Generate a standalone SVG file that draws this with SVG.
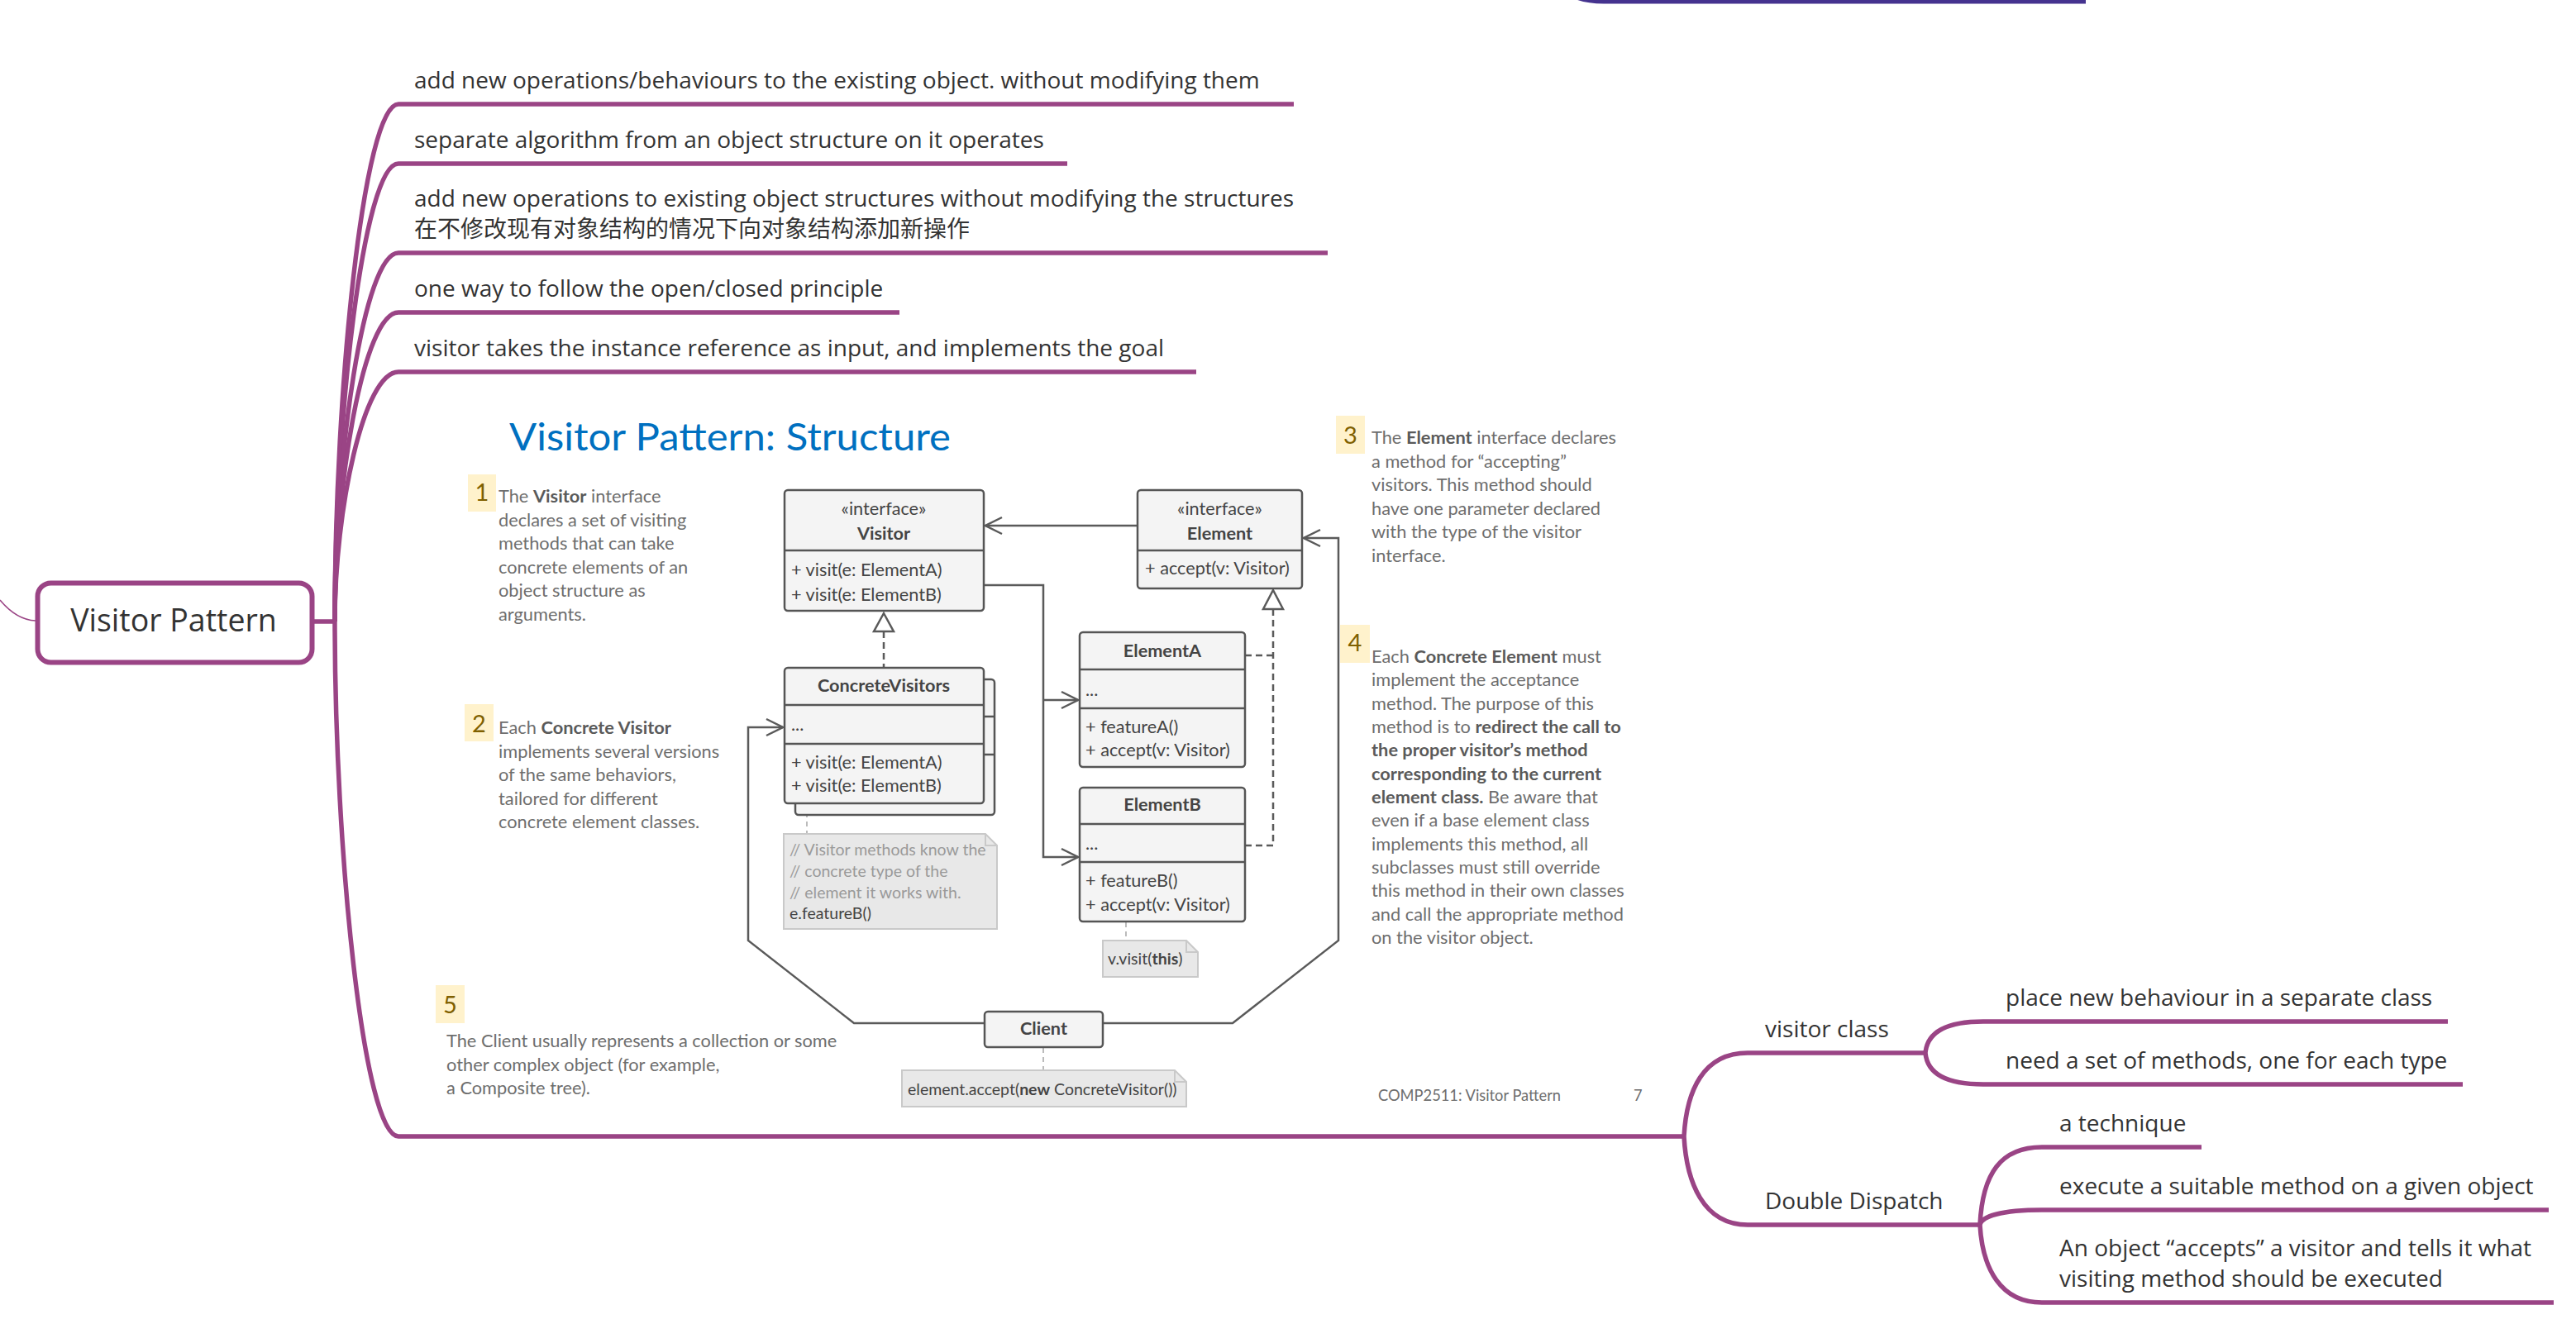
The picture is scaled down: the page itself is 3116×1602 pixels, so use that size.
<svg xmlns="http://www.w3.org/2000/svg" width="3116" height="1602" viewBox="0 0 3116 1602">
<style>
.mm{fill:none;stroke:#9a4485;stroke-width:5.5}
.t{font-family:"Open Sans","Noto Sans","Noto Sans CJK SC",sans-serif;font-size:28px;fill:#333}
.box{fill:#f4f4f4;stroke:#555;stroke-width:2.5}
.div{stroke:#555;stroke-width:2.5}
.ut{font-family:Lato,"Liberation Sans",sans-serif;font-size:21.7px;fill:#444}
.b{font-weight:bold}
.mid{text-anchor:middle}
.ann{font-family:Lato,"Liberation Sans",sans-serif;font-size:21.8px;fill:#6e6e6e}
.ann .b{fill:#5a5a5a}
.foot{font-family:Lato,"Liberation Sans",sans-serif;font-size:18.3px;fill:#6e6e6e}
.badge{fill:#fff2cc}
.num{font-family:Lato,"Liberation Sans",sans-serif;font-size:29px;fill:#7f6000;text-anchor:middle}
.note{fill:#e8e8e8;stroke:#c9c9c9;stroke-width:2}
.nt{font-family:Lato,"Liberation Sans",sans-serif;font-size:19.5px;fill:#9a9a9a}
.nd{fill:#444}
.conn{fill:none;stroke:#5a5a5a;stroke-width:2.5}
.dash{stroke-dasharray:8 5}
.ndash{fill:none;stroke:#bbb;stroke-width:2;stroke-dasharray:6 5}
.tri{fill:#fff;stroke:#5a5a5a;stroke-width:2.5}
</style>
<defs>
<marker id="arr" viewBox="0 0 24 24" refX="22" refY="12" markerWidth="24" markerHeight="24" orient="auto" markerUnits="userSpaceOnUse">
<path d="M2,2 L22,12 L2,22" fill="none" stroke="#5a5a5a" stroke-width="2.5"/>
</marker>
</defs>
<rect width="3116" height="1602" fill="#fff"/>

<g id="mindmap-connectors">
<path d="M0,726 Q20,750 43,751" fill="none" stroke="#9a4485" stroke-width="1.5"/>
<path d="M1898,-8 Q1912,2 1940,2 L2523,2" fill="none" stroke="#45338f" stroke-width="5"/>
<path class="mm" d="M380,752 L405,752"/>
<path class="mm" d="M405,752 C405,470 440,126 482,126 L1565,126"/>
<path class="mm" d="M405,752 C405,503 440,198 482,198 L1291,198"/>
<path class="mm" d="M405,752 C405,551 440,306 482,306 L1606,306"/>
<path class="mm" d="M405,752 C405,584 440,378 482,378 L1088,378"/>
<path class="mm" d="M405,752 C405,616 440,450 482,450 L1447,450"/>
<path class="mm" d="M405,752 C405,1032 440,1375 482,1375 L2037,1375"/>
<path class="mm" d="M2037,1375 C2040,1320 2060,1274 2114,1274 L2329,1274"/>
<path class="mm" d="M2037,1375 C2040,1430 2060,1482 2114,1482 L2395,1482"/>
<path class="mm" d="M2329,1274 C2331,1252 2350,1236 2399,1236 L2961,1236"/>
<path class="mm" d="M2329,1274 C2331,1296 2350,1312 2399,1312 L2979,1312"/>
<path class="mm" d="M2395,1482 C2398,1420 2420,1388 2470,1388 L2663,1388"/>
<path class="mm" d="M2395,1482 C2397,1472 2420,1464 2470,1464 L3083,1464"/>
<path class="mm" d="M2395,1482 C2398,1535 2420,1576 2470,1576 L3089,1576"/>
</g>

<g id="root">
<rect x="45.5" y="705.5" width="332" height="96" rx="16" fill="#fff" stroke="#9a4485" stroke-width="6"/>
<text x="210" y="764" text-anchor="middle" font-family="'Open Sans','Noto Sans',sans-serif" font-size="37.5" fill="#333">Visitor Pattern</text>
</g>

<g id="b1"><text class="t" x="501" y="107">add new operations/behaviours to the existing object. without modifying them</text></g>
<g id="b2"><text class="t" x="501" y="179">separate algorithm from an object structure on it operates</text></g>
<g id="b3"><text class="t" x="501" y="250">add new operations to existing object structures without modifying the structures</text><text class="t" x="501" y="287">在不修改现有对象结构的情况下向对象结构添加新操作</text></g>
<g id="b4"><text class="t" x="501" y="359">one way to follow the open/closed principle</text></g>
<g id="b5"><text class="t" x="501" y="431">visitor takes the instance reference as input, and implements the goal</text></g>
<g id="visitor-class"><text class="t" x="2135" y="1255">visitor class</text></g>
<g id="double-dispatch"><text class="t" x="2135" y="1463">Double Dispatch</text></g>
<g id="vc1"><text class="t" x="2426" y="1217">place new behaviour in a separate class</text></g>
<g id="vc2"><text class="t" x="2426" y="1293">need a set of methods, one for each type</text></g>
<g id="dd1"><text class="t" x="2491" y="1369">a technique</text></g>
<g id="dd2"><text class="t" x="2491" y="1445">execute a suitable method on a given object</text></g>
<g id="dd3"><text class="t" x="2491" y="1520">An object “accepts” a visitor and tells it what</text><text class="t" x="2491" y="1557">visiting method should be executed</text></g>

<g id="slide">
<text x="616" y="545" font-family="Lato,'Liberation Sans',sans-serif" font-size="46" fill="#0070c0" textLength="534" lengthAdjust="spacingAndGlyphs">Visitor Pattern: Structure</text>

<g id="uml-connectors">
<path class="conn" d="M1376,636 L1192,636" marker-end="url(#arr)"/>
<path class="conn" d="M1190,708 L1262,708 L1262,1037 L1304,1037" marker-end="url(#arr)"/>
<path class="conn" d="M1262,847 L1304,847" marker-end="url(#arr)"/>
<path class="conn" d="M1192,1238 L1033,1238 L905,1138 L905,880 L947,880" marker-end="url(#arr)"/>
<path class="conn" d="M1334,1238 L1491,1238 L1619,1138 L1619,651 L1577,651" marker-end="url(#arr)"/>
<path class="conn dash" d="M1069,764 L1069,808"/>
<path class="conn dash" d="M1540,737 L1540,1023 L1506,1023 M1540,793 L1506,793"/>
<polygon class="tri" points="1069,742 1081,764 1057,764"/>
<polygon class="tri" points="1540,714 1552,737 1528,737"/>
<path class="ndash" d="M976,972 L976,1009 M1362,1116 L1362,1138 M1262,1268 L1262,1295"/>
</g>

<g id="visitor">
<rect class="box" x="949" y="593" width="241" height="146" rx="4"/>
<line class="div" x1="949" y1="666" x2="1190" y2="666"/>
<text class="ut mid" x="1069" y="623">«interface»</text>
<text class="ut mid b" x="1069" y="653">Visitor</text>
<text class="ut" x="957" y="697">+ visit(e: ElementA)</text>
<text class="ut" x="957" y="727">+ visit(e: ElementB)</text>
</g>

<g id="element">
<rect class="box" x="1376" y="593" width="199" height="119" rx="4"/>
<line class="div" x1="1376" y1="666" x2="1575" y2="666"/>
<text class="ut mid" x="1475.5" y="623">«interface»</text>
<text class="ut mid b" x="1475.5" y="653">Element</text>
<text class="ut" x="1385" y="695">+ accept(v: Visitor)</text>
</g>

<g id="concrete-visitors">
<rect class="box" x="962" y="822" width="241" height="164" rx="4"/>
<line class="div" x1="962" y1="867" x2="1203" y2="867"/>
<line class="div" x1="962" y1="913" x2="1203" y2="913"/>
<rect class="box" x="949" y="808" width="241" height="164" rx="4"/>
<line class="div" x1="949" y1="853" x2="1190" y2="853"/>
<line class="div" x1="949" y1="900" x2="1190" y2="900"/>
<text class="ut mid b" x="1069" y="837">ConcreteVisitors</text>
<text class="ut" x="957" y="884">...</text>
<text class="ut" x="957" y="930">+ visit(e: ElementA)</text>
<text class="ut" x="957" y="958">+ visit(e: ElementB)</text>
</g>

<g id="elementA">
<rect class="box" x="1306" y="765" width="200" height="163" rx="4"/>
<line class="div" x1="1306" y1="810" x2="1506" y2="810"/>
<line class="div" x1="1306" y1="857" x2="1506" y2="857"/>
<text class="ut mid b" x="1406" y="795">ElementA</text>
<text class="ut" x="1313" y="842">...</text>
<text class="ut" x="1313" y="887">+ featureA()</text>
<text class="ut" x="1313" y="915">+ accept(v: Visitor)</text>
</g>

<g id="elementB">
<rect class="box" x="1306" y="953" width="200" height="162" rx="4"/>
<line class="div" x1="1306" y1="997" x2="1506" y2="997"/>
<line class="div" x1="1306" y1="1043" x2="1506" y2="1043"/>
<text class="ut mid b" x="1406" y="981">ElementB</text>
<text class="ut" x="1313" y="1028">...</text>
<text class="ut" x="1313" y="1073">+ featureB()</text>
<text class="ut" x="1313" y="1102">+ accept(v: Visitor)</text>
</g>

<g id="client">
<rect class="box" x="1191" y="1224" width="143" height="43" rx="4"/>
<text class="ut mid b" x="1262.5" y="1252">Client</text>
</g>

<g id="note-visitor">
<path class="note" d="M948,1009 L1192,1009 L1206,1023 L1206,1124 L948,1124 Z"/>
<path d="M1192,1009 L1192,1023 L1206,1023" fill="none" stroke="#c9c9c9" stroke-width="2"/>
<text class="nt" x="955" y="1035">// Visitor methods know the</text>
<text class="nt" x="955" y="1061">// concrete type of the</text>
<text class="nt" x="955" y="1087">// element it works with.</text>
<text class="nt nd" x="955" y="1112">e.featureB()</text>
</g>

<g id="note-visit">
<path class="note" d="M1334,1138 L1435,1138 L1449,1152 L1449,1182 L1334,1182 Z"/>
<path d="M1435,1138 L1435,1152 L1449,1152" fill="none" stroke="#c9c9c9" stroke-width="2"/>
<text class="nt nd" x="1340" y="1167">v.visit(<tspan class="b">this</tspan>)</text>
</g>

<g id="note-client">
<path class="note" d="M1091,1295 L1421,1295 L1435,1309 L1435,1339 L1091,1339 Z"/>
<path d="M1421,1295 L1421,1309 L1435,1309" fill="none" stroke="#c9c9c9" stroke-width="2"/>
<text class="nt nd" x="1098" y="1325">element.accept(<tspan class="b">new</tspan> ConcreteVisitor())</text>
</g>

<g id="ann1">
<rect class="badge" x="566" y="574" width="34" height="45"/>
<text class="num" x="583" y="606">1</text>
<text class="ann"><tspan x="603" y="608">The <tspan class="b">Visitor</tspan> interface</tspan><tspan x="603" y="636.5">declares a set of visiting</tspan><tspan x="603" y="665">methods that can take</tspan><tspan x="603" y="693.5">concrete elements of an</tspan><tspan x="603" y="722">object structure as</tspan><tspan x="603" y="750.5">arguments.</tspan></text>
</g>

<g id="ann2">
<rect class="badge" x="562" y="852" width="35" height="45"/>
<text class="num" x="579.5" y="886">2</text>
<text class="ann"><tspan x="603" y="888">Each <tspan class="b">Concrete Visitor</tspan></tspan><tspan x="603" y="916.5">implements several versions</tspan><tspan x="603" y="945">of the same behaviors,</tspan><tspan x="603" y="973.5">tailored for different</tspan><tspan x="603" y="1002">concrete element classes.</tspan></text>
</g>

<g id="ann3">
<rect class="badge" x="1616" y="503" width="35" height="46"/>
<text class="num" x="1633.5" y="537">3</text>
<text class="ann"><tspan x="1659" y="537">The <tspan class="b">Element</tspan> interface declares</tspan><tspan x="1659" y="565.5">a method for “accepting”</tspan><tspan x="1659" y="594">visitors. This method should</tspan><tspan x="1659" y="622.5">have one parameter declared</tspan><tspan x="1659" y="651">with the type of the visitor</tspan><tspan x="1659" y="679.5">interface.</tspan></text>
</g>

<g id="ann4">
<rect class="badge" x="1621" y="756" width="36" height="46"/>
<text class="num" x="1639" y="788">4</text>
<text class="ann"><tspan x="1659" y="802">Each <tspan class="b">Concrete Element</tspan> must</tspan><tspan x="1659" y="830.3">implement the acceptance</tspan><tspan x="1659" y="858.6">method. The purpose of this</tspan><tspan x="1659" y="887">method is to <tspan class="b">redirect the call to</tspan></tspan><tspan x="1659" y="915.3" class="b">the proper visitor’s method</tspan><tspan x="1659" y="943.6" class="b">corresponding to the current</tspan><tspan x="1659" y="972"><tspan class="b">element class.</tspan> Be aware that</tspan><tspan x="1659" y="1000.3">even if a base element class</tspan><tspan x="1659" y="1028.6">implements this method, all</tspan><tspan x="1659" y="1057">subclasses must still override</tspan><tspan x="1659" y="1085.3">this method in their own classes</tspan><tspan x="1659" y="1113.6">and call the appropriate method</tspan><tspan x="1659" y="1142">on the visitor object.</tspan></text>
</g>

<g id="ann5">
<rect class="badge" x="527" y="1192" width="35" height="46"/>
<text class="num" x="544.5" y="1226">5</text>
<text class="ann"><tspan x="540" y="1267">The Client usually represents a collection or some</tspan><tspan x="540" y="1295.5">other complex object (for example,</tspan><tspan x="540" y="1324">a Composite tree).</tspan></text>
</g>

<g id="footer">
<text class="foot" x="1667" y="1332">COMP2511: Visitor Pattern</text>
<text class="foot" x="1976" y="1332">7</text>
</g>
</g>
</svg>
